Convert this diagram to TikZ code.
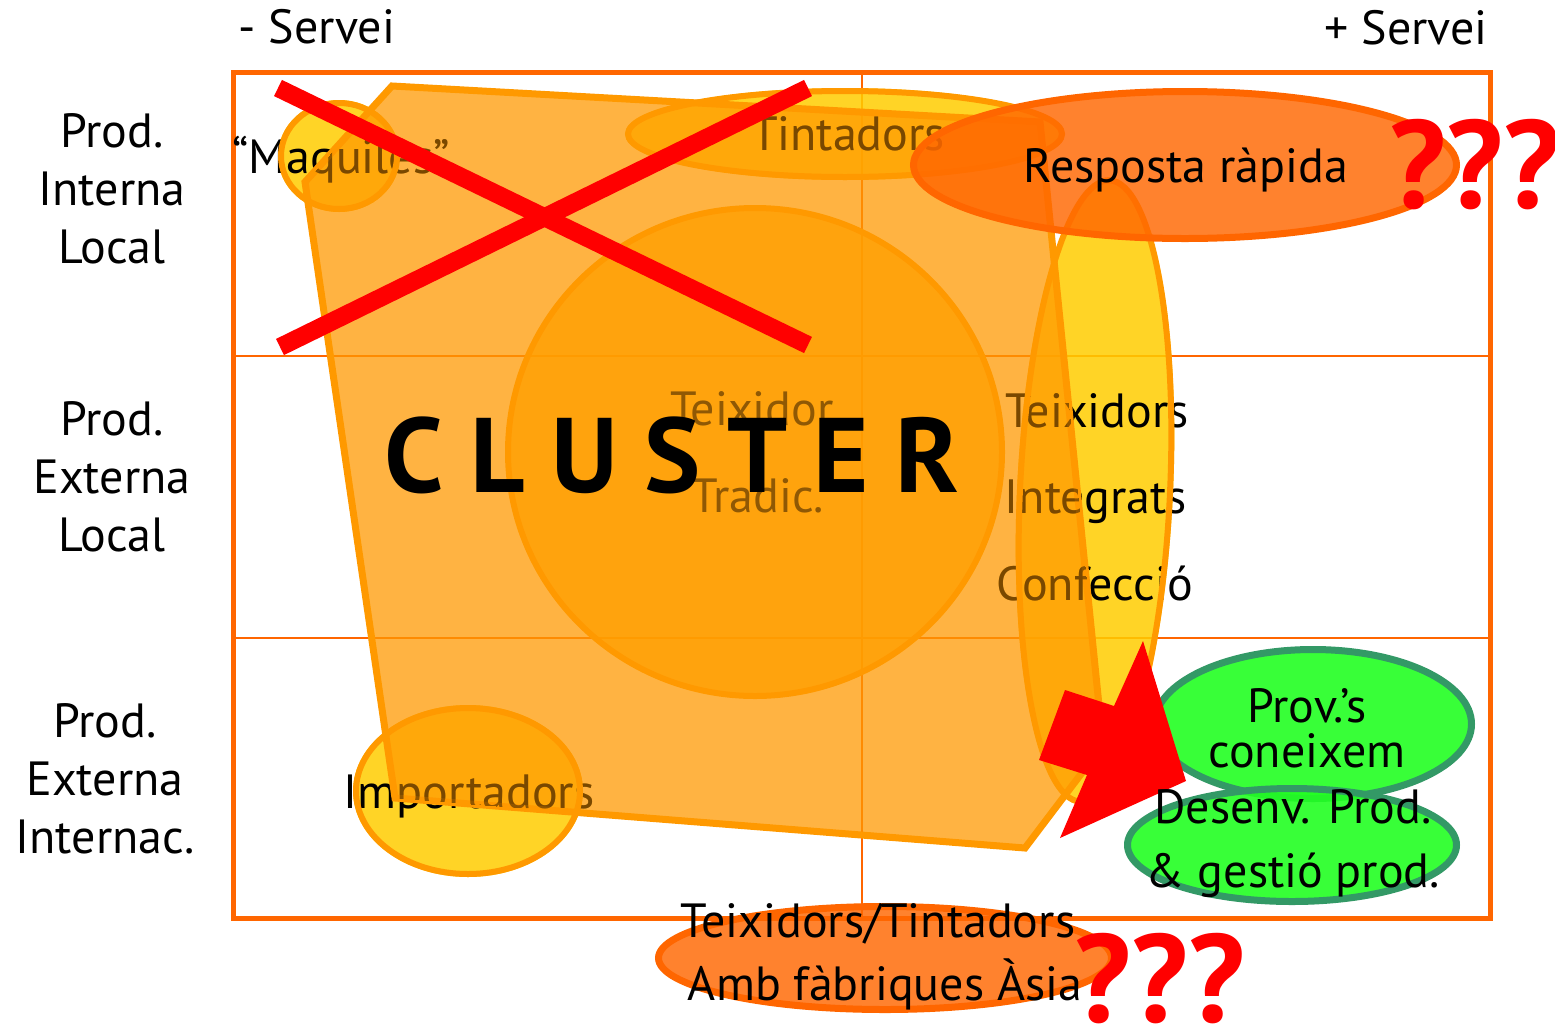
\documentclass[tikz,border=0pt]{standalone}
\usepackage{fontspec}
\setmainfont{PT Sans}
\newfontfamily\clusterfont[LetterSpace=25]{PT Sans}
\usetikzlibrary{shapes.geometric}

\definecolor{gridorange}{HTML}{FF6600}
\definecolor{rimorange}{HTML}{FF9900}
\definecolor{clusterfill}{HTML}{FF9900}
\definecolor{circlefill}{HTML}{FFA000}
\definecolor{yellowfill}{HTML}{FFCC00}
\definecolor{hotorange}{HTML}{FF6600}
\definecolor{greenfill}{HTML}{22FF22}
\definecolor{greenrim}{HTML}{339966}
\definecolor{alertred}{HTML}{FF0000}
\definecolor{dimtext}{HTML}{5A3500}

\begin{document}
\begin{tikzpicture}[x=1pt,y=-1pt,
  txt/.style={font=\fontsize{48}{58}\selectfont, align=center, inner sep=0pt, text=black},
  dim/.style={txt, text=dimtext, text opacity=0.68},
  qmarks/.style={font=\fontsize{125}{125}\selectfont\bfseries, inner sep=0pt, text=alertred},
  blob/.style={ellipse, inner sep=0pt, outer sep=0pt},
  yellowblob/.style={blob, draw=none, fill=yellowfill, fill opacity=0.85},
  rimblob/.style={blob, draw=rimorange, line width=6pt, fill=none},
  hotblob/.style={blob, draw=hotorange, line width=7pt, fill=hotorange, fill opacity=0.82},
  greenblob/.style={blob, draw=greenrim, line width=7pt, fill=greenfill, fill opacity=0.9},
  redbar/.style={draw=alertred, line width=18pt},
  gridline/.style={draw=gridorange, line width=2.5pt}]

\useasboundingbox (0,0) rectangle (1555,1026);

% ---- matrix frame and grid ----
\coordinate (tl) at (233,72);
\coordinate (br) at (1490,918);
\coordinate (midtop) at (862,72);
\coordinate (midbot) at (862,918);
\coordinate (r1l) at (233,356);
\coordinate (r1r) at (1490,356);
\coordinate (r2l) at (233,638);
\coordinate (r2r) at (1490,638);
\draw[gridline] (midtop) -- (midbot);
\draw[gridline] (r1l) -- (r1r);
\draw[gridline] (r2l) -- (r2r);
\draw[draw=gridorange, line width=5pt] (tl) rectangle (br);

% ---- yellow groups (fills) ----
\node[yellowblob, minimum width=122pt, minimum height=112pt] (maq) at (339,156) {};
\node[yellowblob, minimum width=230pt, minimum height=172pt] (imp) at (468,791) {};
\node[yellowblob, minimum width=440pt, minimum height=92pt] (tint) at (845,134) {};
\node[yellowblob, minimum width=156pt, minimum height=628pt, rotate=-2.7] (tall) at (1095,491) {};

% ---- labels lying under the cluster ----
\node[txt, anchor=base] (maqtxt) at (341,173) {“Maquiles”};
\node[txt, anchor=base] (tinttxt) at (848,150) {Tintadors};
\node[txt, anchor=base] (imptxt) at (469,808) {Importadors};
\node[txt, anchor=base] (teix) at (1097,427) {Teixidors};
\node[txt, anchor=base] (integ) at (1096,513) {Integrats};
\node[txt, anchor=base] (confec) at (1095,600) {Confecció};

% ---- cluster polygon ----
\coordinate (p1) at (392,86);
\coordinate (p2) at (1040,122);
\coordinate (p3) at (1103,745);
\coordinate (p4) at (1025,848);
\coordinate (p5) at (395,798);
\coordinate (p6) at (305,182);
\draw[draw=rimorange, line width=7pt, fill=clusterfill, fill opacity=0.74]
  (p1) -- (p2) -- (p3) -- (p4) -- (p5) -- (p6) -- cycle;

% labels seen through the cluster surface
\begin{scope}
  \clip (p1) -- (p2) -- (p3) -- (p4) -- (p5) -- (p6) -- cycle;
  \node[dim, anchor=base] (maqdim) at (341,173) {“Maquiles”};
  \node[dim, anchor=base] (tintdim) at (848,150) {Tintadors};
  \node[dim, anchor=base] (impdim) at (469,808) {Importadors};
  \node[dim, anchor=base] (teixdim) at (1097,427) {Teixidors};
  \node[dim, anchor=base] (integdim) at (1096,513) {Integrats};
  \node[dim, anchor=base] (confecdim) at (1095,600) {Confecció};
\end{scope}

% ---- rims of the yellow groups, seen through the cluster ----
\node[rimblob, minimum width=116pt, minimum height=106pt] (maqrim) at (339,156) {};
\node[rimblob, minimum width=224pt, minimum height=166pt] (imprim) at (468,791) {};
\node[rimblob, minimum width=434pt, minimum height=86pt] (tintrim) at (845,134) {};
\node[rimblob, minimum width=150pt, minimum height=622pt, rotate=-2.7] (tallrim) at (1095,491) {};

% ---- traditional weavers and the cluster core ----
\node[blob, draw=rimorange, line width=6pt, fill=circlefill, fill opacity=0.8,
      minimum width=494pt, minimum height=488pt] (core) at (755,452) {};
\node[dim, anchor=base] (teixtrad) at (752,425) {Teixidor};
\node[dim, anchor=base] (tradic) at (758,512) {Tradic.};
\node[font=\fontsize{106}{106}\selectfont\clusterfont\bfseries, inner sep=0pt, anchor=base] (cluster) at (672,492) {CLUSTER};

% ---- crossed out corner ----
\coordinate (xa) at (278,88);
\coordinate (xb) at (808,345);
\coordinate (xc) at (280,347);
\coordinate (xd) at (808,88);
\draw[redbar] (xa) -- (xb);
\draw[redbar] (xc) -- (xd);

% ---- quick response ----
\node[hotblob, minimum width=543pt, minimum height=147pt] (resp) at (1185,165) {};
\node[txt, anchor=base] (resptxt) at (1186,182) {Resposta ràpida};
\node[qmarks, anchor=base] (q1) at (1475,208) {???};

% ---- knowledge providers ----
\node[greenblob, minimum width=317pt, minimum height=149pt] (prov) at (1313,724) {};
\node[greenblob, minimum width=329pt, minimum height=113pt] (desenv) at (1292,845) {};
\fill[alertred] (1065,690) -- (1114,706) -- (1143,641) -- (1186,781) -- (1060,838) -- (1087,775) -- (1039,760) -- cycle;
\node[txt, anchor=base] (provtxt) at (1307,722) {Prov.’s};
\node[txt, anchor=base] (coneix) at (1307,767) {coneixem};
\node[txt, anchor=base] (desenvtxt) at (1293,823) {Desenv. Prod.};
\node[txt, anchor=base] (gestio) at (1293,887) {\& gestió prod.};

% ---- Asian factories ----
\node[hotblob, minimum width=453pt, minimum height=103pt] (asia) at (885,958) {};
\node[txt, anchor=base] (asia1) at (878,937) {Teixidors/Tintadors};
\node[txt, anchor=base] (asia2) at (885,1000) {Amb fàbriques Àsia};
\node[qmarks, anchor=base] (q2) at (1160,1022) {???};

% ---- axis labels ----
\node[txt, anchor=base] (lesssrv) at (317,43) {- Servei};
\node[txt, anchor=base] (moresrv) at (1406,44) {+ Servei};
\node[txt] (row1) at (112,189) {Prod.\\Interna\\Local};
\node[txt] (row2) at (112,477) {Prod.\\Externa\\Local};
\node[txt] (row3) at (105,779) {Prod.\\Externa\\Internac.};
\end{tikzpicture}
\end{document}
